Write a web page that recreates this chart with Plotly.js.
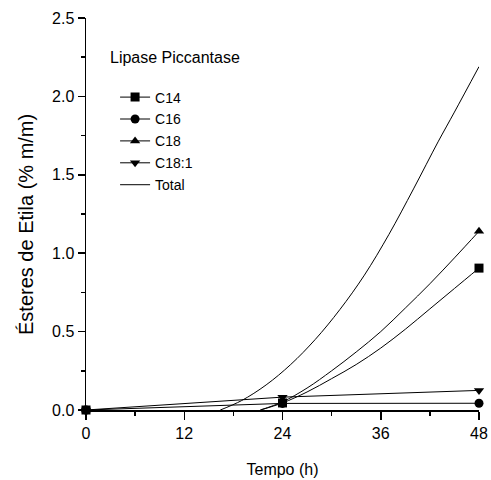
<!DOCTYPE html>
<html>
<head>
<meta charset="utf-8">
<script src="https://cdn.plot.ly/plotly-3.0.1.min.js"></script>
<style>html,body{margin:0;padding:0;background:#fff;}</style>
</head>
<body>
<div id="chart" style="width:491px;height:480px;"></div>
<script>
// Measured points
var tempo = [0, 24, 48];
var c14 = [0, 0.045, 0.905];
var c16 = [0, 0.042, 0.043];
var c18 = [0, 0.052, 1.14];
var c181 = [0, 0.082, 0.125];

// Fitted curves
var c14CurveX = [21.3, 24, 27, 30, 33, 36, 39, 42, 45, 48];
var c14CurveY = [0, 0.045, 0.115, 0.2, 0.29, 0.395, 0.515, 0.645, 0.775, 0.905];
var c18CurveX = [21.3, 24, 27, 30, 33, 36, 39, 42, 45, 48];
var c18CurveY = [0, 0.052, 0.14, 0.25, 0.37, 0.5, 0.65, 0.805, 0.97, 1.14];
var totalCurveX = [16.4, 19, 22, 25, 28, 31, 34, 37, 40, 43, 45, 48];
var totalCurveY = [0, 0.06, 0.16, 0.29, 0.45, 0.64, 0.86, 1.12, 1.41, 1.71, 1.90, 2.19];

var xTicks = [0, 12, 24, 36, 48];
var yTicks = [0, 0.5, 1.0, 1.5, 2.0, 2.5];

function hasFont(f) {
  var ctx = document.createElement('canvas').getContext('2d');
  var s = 'Tempo (h) 0123456789';
  ctx.font = '40px monospace';
  var w1 = ctx.measureText(s).width;
  ctx.font = '40px "' + f + '", monospace';
  return ctx.measureText(s).width !== w1;
}
var narrow = hasFont('Liberation Sans Narrow');
var FONT = narrow ? '"Liberation Sans Narrow", sans-serif' : '"Liberation Sans", Arial, sans-serif';
var K = narrow ? 1.15 : 1.0;  // size factor
var REG = '"Liberation Sans", Arial, sans-serif';

function fitted(name, group, symbol, px, py, cx, cy) {
  var x = [px[0], null], y = [py[0], null], col = ['black', 'rgba(0,0,0,0)'];
  for (var i = 0; i < cx.length; i++) {
    x.push(cx[i]); y.push(cy[i]);
    col.push(px.indexOf(cx[i]) > 0 ? 'black' : 'rgba(0,0,0,0)');
  }
  return {
    name: name, legendgroup: group, x: x, y: y, type: 'scatter', mode: 'lines+markers',
    connectgaps: false, cliponaxis: false,
    line: {color: 'black', width: 1, shape: 'spline', smoothing: 1},
    marker: {symbol: symbol, size: 9, color: col, line: {width: 0}}
  };
}
function straight(name, group, symbol, px, py) {
  return {
    name: name, legendgroup: group, x: px, y: py, type: 'scatter', mode: 'lines+markers',
    cliponaxis: false,
    line: {color: 'black', width: 1},
    marker: {symbol: symbol, size: 9, color: 'black', line: {width: 0}}
  };
}

var traces = [
  fitted('C14', 'g1', 'square', tempo, c14, c14CurveX, c14CurveY),
  straight('C16', 'g2', 'circle', tempo, c16),
  fitted('C18', 'g3', 'triangle-up', tempo, c18, c18CurveX, c18CurveY),
  straight('C18:1', 'g4', 'triangle-down', tempo, c181),
  {name: 'Total', legendgroup: 'g5', x: totalCurveX, y: totalCurveY, type: 'scatter', mode: 'lines',
   line: {color: 'black', width: 1, shape: 'spline', smoothing: 1}}
];

var layout = {
  width: 491, height: 480,
  margin: {l: 86, r: 12, t: 18, b: 70},
  paper_bgcolor: '#fff', plot_bgcolor: '#fff',
  font: {family: FONT, size: 16 * K, color: 'black'},
  showlegend: true,
  legend: {x: 0.074, y: 0.838, xanchor: 'left', yanchor: 'top', traceorder: 'grouped',
           tracegroupgap: 0.7, font: {family: FONT, size: 14 * K, color: 'black'},
           bgcolor: 'rgba(0,0,0,0)', itemwidth: 30},
  xaxis: {
    range: [0, 48], tickvals: xTicks, ticktext: xTicks.map(String),
    showgrid: false, zeroline: false, showline: true, linecolor: 'black', linewidth: 1.5,
    ticks: 'outside', ticklen: 8, tickwidth: 1.5, tickcolor: 'black',
    minor: {dtick: 6, tick0: 0, ticks: 'outside', ticklen: 4, tickwidth: 1.5, tickcolor: 'black', showgrid: false},
    tickfont: {family: FONT, size: 16 * K},
    title: {text: 'Tempo (h)', font: {family: FONT, size: 16 * K}, standoff: 23}
  },
  yaxis: {
    range: [0, 2.5], tickvals: yTicks, ticktext: yTicks.map(function (v) { return v.toFixed(1); }),
    showgrid: false, zeroline: false, showline: true, linecolor: 'black', linewidth: 1.5,
    ticks: 'outside', ticklen: 7, tickwidth: 1.5, tickcolor: 'black',
    minor: {dtick: 0.25, tick0: 0, ticks: 'outside', ticklen: 4, tickwidth: 1.5, tickcolor: 'black', showgrid: false},
    tickfont: {family: FONT, size: 16 * K}
  },
  annotations: [{
    text: 'Lipase Piccantase', xref: 'paper', yref: 'paper', x: 0.055, y: 0.9005,
    xanchor: 'left', yanchor: 'middle', showarrow: false, font: {family: FONT, size: 16 * K, color: 'black'}
  }, {
    text: 'Ésteres de Etila (% m/m)', xref: 'paper', yref: 'paper', x: -0.1527, y: 0.4745,
    xanchor: 'center', yanchor: 'middle', textangle: -90, showarrow: false,
    font: {family: REG, size: 20, color: 'black'}
  }]
};

Plotly.newPlot('chart', traces, layout, {staticPlot: true, displayModeBar: false});
</script>
</body>
</html>
